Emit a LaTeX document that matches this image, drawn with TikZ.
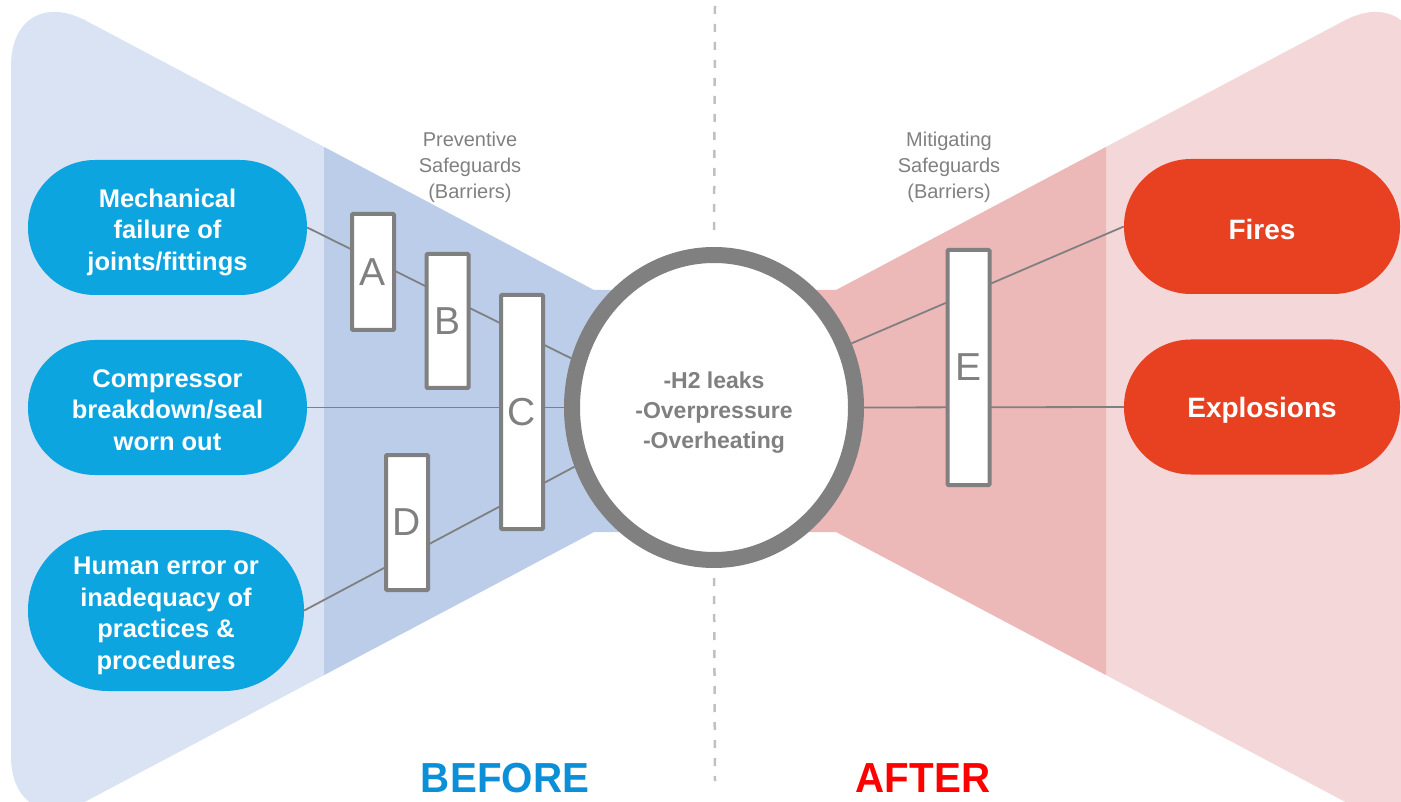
\documentclass[tikz,border=0pt]{standalone}
\usepackage{fontspec}
\setmainfont{Liberation Sans}
\newfontfamily\narrowfont{Liberation Sans}[FakeStretch=0.96]
\usetikzlibrary{shapes.geometric}
\pgfdeclarelayer{back}
\pgfdeclarelayer{mid}
\pgfsetlayers{back,mid,main}
\definecolor{causeblue}{HTML}{0DA5E0}
\definecolor{outred}{HTML}{E84121}
\definecolor{lightblue}{HTML}{DAE3F3}
\definecolor{darkblue}{HTML}{BCCDEA}
\definecolor{lightred}{HTML}{F4D8D9}
\definecolor{darkred}{HTML}{ECB8B8}
\definecolor{ringgray}{HTML}{808080}
\definecolor{guidegray}{HTML}{C0C0C0}
\definecolor{beforeblue}{HTML}{0A8FD8}
\definecolor{afterred}{HTML}{FF0000}
\newcommand{\lowered}[2][5pt]{\raisebox{-#1}[\height][\depth]{#2}}
\begin{document}
\begin{tikzpicture}[x=1pt, y=-1pt,
            cause/.style={rectangle, fill=causeblue, text=white, minimum width=279pt, minimum height=135pt, rounded corners=67pt, font=\fontsize{25.5}{31.5}\selectfont\bfseries},
            outcome/.style={rectangle, fill=outred, text=white, minimum width=276pt, minimum height=135pt, rounded corners=67pt, font=\fontsize{28}{34}\selectfont\bfseries},
            barrier/.style={rectangle, draw=ringgray, line width=4pt, fill=white, minimum width=42pt, inner sep=0pt, rounded corners=1pt, text=ringgray, font=\fontsize{39}{39}\selectfont},
            link/.style={draw=ringgray, line width=1.8pt},
            guide/.style={draw=guidegray, line width=2.5pt, dash pattern=on 8pt off 10pt},
            sgtext/.style={text=ringgray, font=\fontsize{20}{26}\selectfont},
            sidetext/.style={anchor=base, inner sep=0pt, font=\narrowfont\fontsize{42}{42}\selectfont\bfseries},
        ]
            \useasboundingbox (0,0) rectangle (1401,802);
            % causes and outcomes
            \node(mechnode) at (167.5,227.5) [cause] {\lowered{\begin{tabular}{c} Mechanical \\ failure of \\ joints/fittings \end{tabular}}};
            \node(compnode) at (167.5,407.5) [cause] {\lowered{\begin{tabular}{c} Compressor \\ breakdown/seal \\ worn out \end{tabular}}};
            \node(humannode) at (166,610.5) [cause, minimum width=276pt, minimum height=161pt, rounded corners=80pt] {\lowered{\begin{tabular}{c} Human error or \\ inadequacy of \\ practices \& \\ procedures \end{tabular}}};
            \node(firesnode) at (1262,226.5) [outcome] {\lowered[3pt]{Fires}};
            \node(explnode) at (1262,407) [outcome] {\lowered[3pt]{Explosions}};
            % top event
            \node[ellipse, draw=ringgray, line width=16pt, fill=white, minimum width=284pt, minimum height=305pt, inner sep=0pt, text=ringgray, font=\fontsize{23}{30}\selectfont\bfseries](hazardnode) at (714,407.5) {\lowered{\begin{tabular}{c} -H2 leaks \\ -Overpressure \\ -Overheating \end{tabular}}};
            % barriers
            \node[barrier, minimum height=116pt](anode) at (373,272) {A};
            \node[barrier, minimum height=134pt](bnode) at (447.5,321) {B};
            \node[barrier, minimum height=234pt](cnode) at (522,412) {C};
            \node[barrier, minimum height=135pt](dnode) at (407,522.5) {D};
            \node[barrier, minimum height=235pt](enode) at (968.5,367.5) {E};
            % labels
            \node[sgtext](prevnode) at (470,167) {\begin{tabular}{c} Preventive \\ Safeguards \\ (Barriers) \end{tabular}};
            \node[sgtext](mitinode) at (949,167) {\begin{tabular}{c} Mitigating \\ Safeguards \\ (Barriers) \end{tabular}};
            \node[sidetext, text=beforeblue](beforenode) at (505,792) {BEFORE};
            \node[sidetext, text=afterred](afternode) at (923,792) {AFTER};
            \coordinate (dashtop) at (715,6);
            \coordinate (dashbot) at (715,781);
            \begin{pgfonlayer}{mid}
                \draw[link] (mechnode.east) -- (hazardnode.161);
                \draw[link] (compnode.east) -- (hazardnode.west);
                \draw[link] (humannode.east) -- (hazardnode.203);
                \draw[link] (hazardnode.25) -- (firesnode.west);
                \draw[link] (hazardnode.east) -- (explnode.west);
                \draw[guide, shorten >=10pt] (dashtop) -- (hazardnode.north);
                \draw[guide, shorten <=10pt] (hazardnode.south) -- (dashbot);
            \end{pgfonlayer}
            \begin{pgfonlayer}{back}
                \fill[lightblue, rounded corners=85pt] (594,290) -- (11,-19) -- (11,841) -- (594,532) -- cycle;
                \fill[darkblue] (324,147) -- (594,290) -- (715,290) -- (715,532) -- (594,532) -- (324,675) -- cycle;
                \fill[lightred, rounded corners=85pt] (836,290) -- (1419,-19) -- (1419,841) -- (836,532) -- cycle;
                \fill[darkred] (1106,147) -- (836,290) -- (715,290) -- (715,532) -- (836,532) -- (1106,675) -- cycle;
            \end{pgfonlayer}
        \end{tikzpicture}
\end{document}
